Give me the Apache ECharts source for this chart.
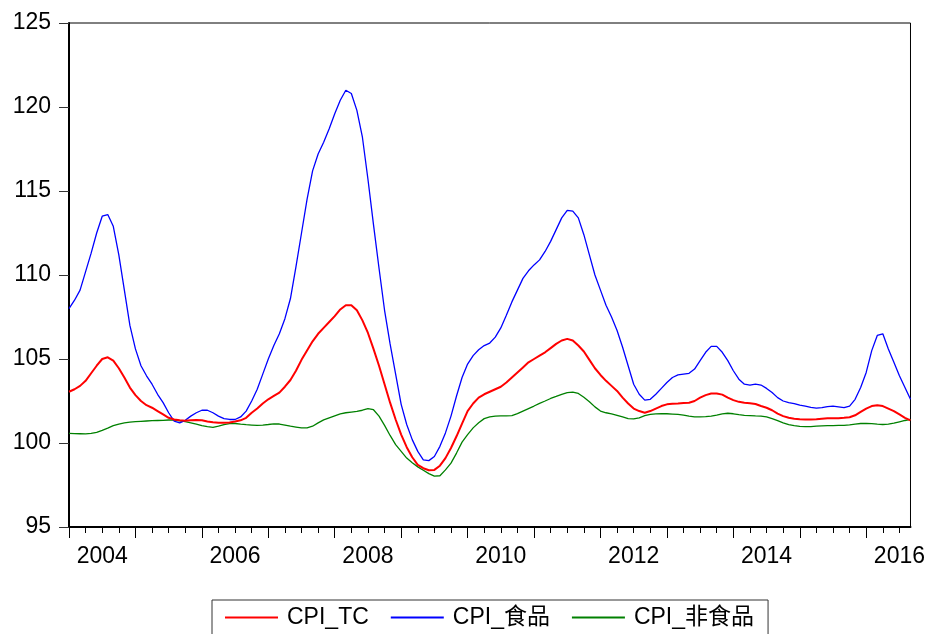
<!DOCTYPE html>
<html>
<head>
<meta charset="utf-8">
<script src="https://cdn.jsdelivr.net/npm/echarts@6/dist/echarts.min.js"></script>
<style>
  html, body { margin: 0; padding: 0; background: #fff; }
  #chart { width: 928px; height: 634px; }
</style>
</head>
<body>
<div id="chart"></div>
<script>
// monthly, 2004M01 .. 2016M09
const startYear = 2004;
const months = [];
for (let i = 0; i < 153; i++) {
  const y = startYear + Math.floor(i / 12);
  const m = (i % 12) + 1;
  months.push(y + "-" + (m < 10 ? "0" + m : m));
}

const seriesNames = ["CPI_TC", "CPI_食品", "CPI_非食品"];

const cpiTC = [
  103.05, 103.2, 103.4, 103.7, 104.15, 104.6, 105.0, 105.1, 104.9, 104.45, 103.9, 103.3,
  102.85, 102.5, 102.25, 102.1, 101.9, 101.7, 101.5, 101.4, 101.35, 101.33, 101.35, 101.37,
  101.35, 101.28, 101.23, 101.2, 101.2, 101.22, 101.28, 101.35, 101.5, 101.8, 102.05, 102.35,
  102.6, 102.8, 103.0, 103.35, 103.75, 104.3, 104.95, 105.5, 106.05, 106.5, 106.85, 107.2,
  107.55, 107.95, 108.2, 108.2, 107.9, 107.3, 106.55, 105.6, 104.6, 103.5, 102.4, 101.4,
  100.5, 99.75, 99.15, 98.7, 98.5, 98.38, 98.4, 98.65, 99.1, 99.7, 100.4, 101.15,
  101.9, 102.35, 102.7, 102.9, 103.05, 103.2, 103.35, 103.6, 103.9, 104.2, 104.5, 104.8,
  105.0, 105.2, 105.4, 105.65, 105.9, 106.1, 106.2, 106.1, 105.8, 105.45, 104.95, 104.45,
  104.05, 103.7, 103.4, 103.1, 102.7, 102.35, 102.05, 101.9, 101.8, 101.9, 102.05, 102.2,
  102.3, 102.33, 102.35, 102.38, 102.4, 102.5, 102.7, 102.85, 102.95, 102.95, 102.88, 102.7,
  102.55, 102.45, 102.4, 102.37, 102.32, 102.2, 102.1, 101.95, 101.75, 101.6, 101.5, 101.45,
  101.42, 101.4, 101.4, 101.42, 101.45, 101.47, 101.48, 101.48, 101.5, 101.53, 101.65, 101.85,
  102.05, 102.2, 102.25, 102.2, 102.05, 101.9, 101.7, 101.5, 101.35
];

const cpiFood = [
  108.0, 108.5, 109.1, 110.2, 111.3, 112.5, 113.5, 113.6, 112.9, 111.2, 109.1, 107.0,
  105.6, 104.6, 104.0, 103.5, 102.9, 102.4, 101.8, 101.3, 101.2, 101.35, 101.6, 101.8,
  101.95, 101.95, 101.8, 101.6, 101.45, 101.4, 101.4, 101.55, 101.9, 102.5, 103.2, 104.1,
  105.0, 105.8, 106.5, 107.4, 108.6, 110.5, 112.5, 114.5, 116.2, 117.2, 117.9, 118.7,
  119.6, 120.4, 121.0, 120.8, 119.8, 118.2, 115.7, 113.0, 110.4, 107.9, 105.9, 104.1,
  102.3, 101.1, 100.2, 99.5, 99.0, 98.95, 99.2, 99.8, 100.6, 101.6, 102.8, 103.9,
  104.7, 105.2, 105.55, 105.8, 105.95, 106.3, 106.85, 107.6, 108.4, 109.1, 109.8, 110.25,
  110.6, 110.9, 111.4, 112.0, 112.7, 113.4, 113.85, 113.8, 113.4, 112.4, 111.2, 110.0,
  109.1, 108.2, 107.5, 106.7, 105.7, 104.6, 103.5, 102.9, 102.55, 102.6, 102.9, 103.25,
  103.6, 103.9, 104.05, 104.1, 104.15, 104.4, 104.9, 105.4, 105.75, 105.75, 105.4, 104.9,
  104.3, 103.8, 103.5, 103.45, 103.5, 103.45, 103.25, 103.0, 102.7, 102.5, 102.4, 102.35,
  102.25, 102.2, 102.12, 102.07, 102.1, 102.17, 102.2, 102.15, 102.1, 102.2, 102.6, 103.3,
  104.2, 105.5, 106.4, 106.5, 105.6, 104.8, 104.0, 103.3, 102.6
];

const cpiNonFood = [
  100.57, 100.56, 100.55, 100.54, 100.57, 100.63, 100.75, 100.88, 101.03, 101.13, 101.2, 101.24,
  101.27, 101.29, 101.31, 101.33, 101.34, 101.35, 101.37, 101.36, 101.32, 101.27, 101.2, 101.12,
  101.03, 100.97, 100.93, 101.0, 101.1, 101.15, 101.16, 101.12, 101.09, 101.07, 101.05, 101.07,
  101.1, 101.14, 101.13, 101.07, 101.0, 100.95, 100.9, 100.9, 101.0, 101.2, 101.38, 101.5,
  101.62, 101.74, 101.8, 101.84, 101.88, 101.95, 102.05, 101.98, 101.6, 101.05, 100.45, 99.9,
  99.5, 99.1, 98.82, 98.58, 98.38, 98.18, 98.03, 98.05, 98.4, 98.8, 99.4, 100.05,
  100.5, 100.9, 101.2, 101.45, 101.55, 101.6, 101.62, 101.62, 101.63, 101.75, 101.9, 102.05,
  102.2, 102.36, 102.5, 102.65, 102.77, 102.9, 103.0, 103.03, 102.95, 102.72, 102.46, 102.15,
  101.9, 101.8, 101.74, 101.65, 101.55, 101.45, 101.43, 101.5, 101.63, 101.7, 101.73, 101.74,
  101.74, 101.72, 101.7, 101.66, 101.6, 101.56, 101.55, 101.57, 101.6, 101.66, 101.73, 101.77,
  101.74, 101.69, 101.65, 101.63, 101.61, 101.6, 101.55, 101.45, 101.33, 101.2, 101.09, 101.03,
  100.99, 100.97, 100.98, 101.0, 101.02, 101.03, 101.04, 101.05, 101.05, 101.08, 101.12, 101.16,
  101.17, 101.15, 101.12, 101.1, 101.12, 101.18, 101.26, 101.34, 101.4
];

const yMin = 95;
const yMax = 125;
const yStep = 5;

const font = "'Liberation Sans', Arial, 'Noto Sans CJK SC', sans-serif";

const chart = echarts.init(document.getElementById("chart"));

const option = {
  animation: false,
  backgroundColor: "#fff",
  textStyle: { fontFamily: font },
  grid: {
    left: 69,
    right: 17,
    top: 23,
    bottom: 107,
    show: true,
    borderColor: "#000",
    borderWidth: 1,
  },
  legend: {
    left: 212,
    top: 600,
    padding: [6, 14, 6, 13],
    borderColor: "#333",
    borderWidth: 1,
    itemGap: 22,
    itemWidth: 53,
    itemHeight: 2,
    icon: "rect",
    textStyle: {
      fontFamily: font,
      fontSize: 23,
      color: "#000",
      padding: [0, 0, 0, 4],
    },
    data: seriesNames,
  },
  xAxis: [
    {
      type: "category",
      position: "bottom",
      boundaryGap: false,
      data: months,
      axisLine: { onZero: false, lineStyle: { color: "#000", width: 2 } },
      axisTick: {
        length: 6,
        interval: function (idx) {
          return idx % 3 === 0;
        },
        lineStyle: { color: "#000", width: 1 },
      },
      axisLabel: { show: false },
      splitLine: { show: false },
    },
    {
      type: "category",
      position: "bottom",
      boundaryGap: false,
      data: months,
      axisLine: { show: false, onZero: false },
      axisTick: {
        length: 11,
        interval: function (idx) {
          return idx % 12 === 0;
        },
        lineStyle: { color: "#000", width: 1 },
      },
      axisLabel: {
        margin: 18,
        fontFamily: font,
        fontSize: 23,
        color: "#000",
        interval: function (idx) {
          return idx % 24 === 6;
        },
        formatter: function (value) {
          return value.substring(0, 4);
        },
      },
      splitLine: { show: false },
    },
  ],
  yAxis: {
    type: "value",
    min: yMin,
    max: yMax,
    interval: yStep,
    axisLine: { show: true, lineStyle: { color: "#000", width: 2 } },
    axisTick: { show: true, length: 10, lineStyle: { color: "#333", width: 1 } },
    axisLabel: {
      margin: 18,
      fontFamily: font,
      fontSize: 23,
      color: "#000",
    },
    splitLine: { show: false },
  },
  series: [
    {
      name: seriesNames[0],
      type: "line",
      data: cpiTC,
      showSymbol: false,
      itemStyle: { color: "#ff0000" },
      lineStyle: { color: "#ff0000", width: 2 },
      z: 4,
    },
    {
      name: seriesNames[1],
      type: "line",
      data: cpiFood,
      showSymbol: false,
      itemStyle: { color: "#0000ff" },
      lineStyle: { color: "#0000ff", width: 1.3 },
      z: 3,
    },
    {
      name: seriesNames[2],
      type: "line",
      data: cpiNonFood,
      showSymbol: false,
      itemStyle: { color: "#008000" },
      lineStyle: { color: "#008000", width: 1.3 },
      z: 2,
    },
  ],
};

chart.setOption(option);
</script>
</body>
</html>
